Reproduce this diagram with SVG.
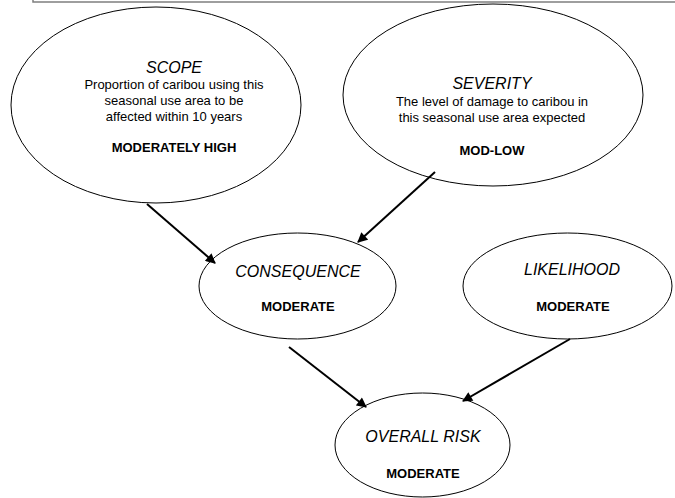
<svg xmlns="http://www.w3.org/2000/svg" width="675" height="498" viewBox="0 0 675 498">
  <style>
    .node { fill: #ffffff; stroke: #000000; stroke-width: 1; }
    .title { font-family: "Liberation Sans", Arial, sans-serif; font-size: 16px; font-style: italic; text-anchor: middle; fill: #000; }
    .body { font-family: "Liberation Sans", Arial, sans-serif; font-size: 13px; text-anchor: middle; fill: #000; }
    .rating { font-family: "Liberation Sans", Arial, sans-serif; font-size: 13px; font-weight: bold; text-anchor: middle; fill: #000; }
    .link { stroke: #000000; stroke-width: 2; fill: none; marker-end: url(#arrow); }
  </style>
  <defs>
    <marker id="arrow" viewBox="0 0 10 10" refX="9" refY="5" markerWidth="5.5" markerHeight="5" markerUnits="strokeWidth" orient="auto">
      <path d="M0,0 L10,5 L0,10 Z" fill="#000000"/>
    </marker>
  </defs>

  <rect width="675" height="498" fill="#ffffff"/>

  <!-- frame edge along the top -->
  <path d="M33,0 L33,2 L675,2" fill="none" stroke="#7f7f7f" stroke-width="1.5"/>

  <g id="scope">
    <ellipse class="node" cx="156" cy="105" rx="145" ry="98"/>
    <text class="title" x="174" y="73">SCOPE</text>
    <text class="body" x="174" y="89">Proportion of caribou using this</text>
    <text class="body" x="174" y="105">seasonal use area to be</text>
    <text class="body" x="174" y="121">affected within 10 years</text>
    <text class="rating" x="174" y="152">MODERATELY HIGH</text>
  </g>

  <g id="severity">
    <ellipse class="node" cx="493" cy="95" rx="150" ry="91"/>
    <text class="title" x="492" y="89">SEVERITY</text>
    <text class="body" x="492" y="106">The level of damage to caribou in</text>
    <text class="body" x="492" y="122">this seasonal use area expected</text>
    <text class="rating" x="492" y="155">MOD-LOW</text>
  </g>

  <g id="consequence">
    <ellipse class="node" cx="297.5" cy="286" rx="98.5" ry="53"/>
    <text class="title" x="298" y="277">CONSEQUENCE</text>
    <text class="rating" x="298" y="311">MODERATE</text>
  </g>

  <g id="likelihood">
    <ellipse class="node" cx="567.5" cy="286" rx="104.5" ry="53"/>
    <text class="title" x="572" y="275">LIKELIHOOD</text>
    <text class="rating" x="573" y="311">MODERATE</text>
  </g>

  <g id="overall-risk">
    <ellipse class="node" cx="422.5" cy="445" rx="87.5" ry="52"/>
    <text class="title" x="423" y="442">OVERALL RISK</text>
    <text class="rating" x="423" y="478">MODERATE</text>
  </g>

  <g id="connectors">
    <line class="link" x1="147" y1="204" x2="215" y2="263"/>
    <line class="link" x1="435" y1="172" x2="358" y2="242"/>
    <line class="link" x1="289" y1="347" x2="366" y2="407"/>
    <line class="link" x1="570" y1="339" x2="463" y2="401"/>
  </g>
</svg>
